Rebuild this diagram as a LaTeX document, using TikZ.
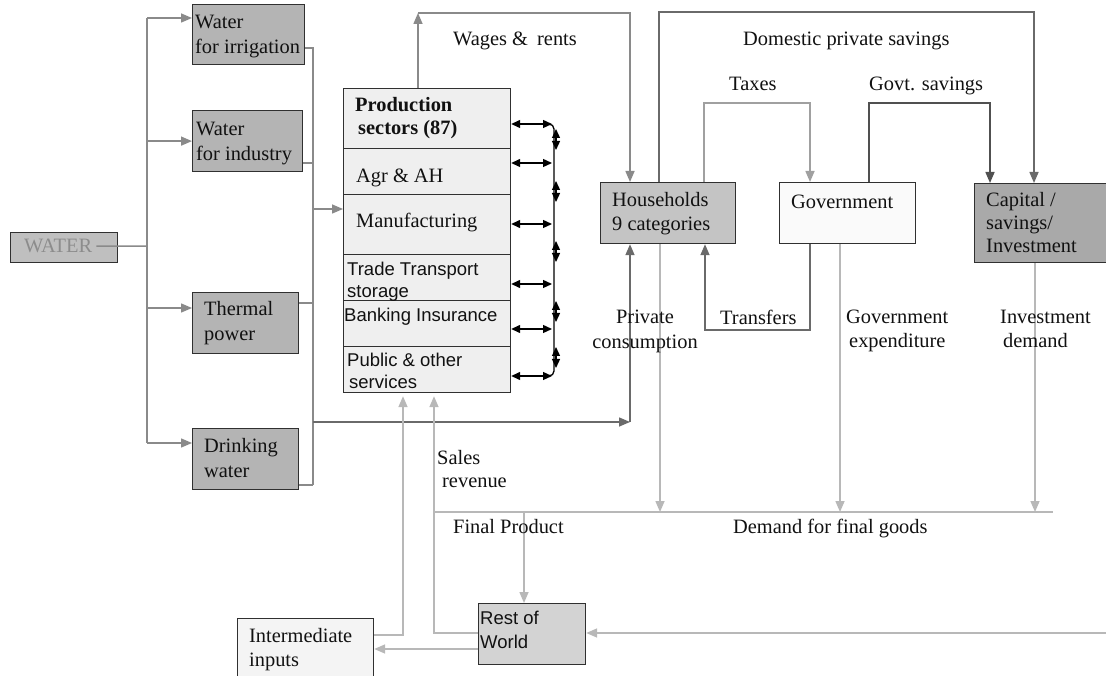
\documentclass[tikz,border=0pt]{standalone}
\usepackage{fontspec}
\setmainfont{Liberation Serif}
\newfontfamily\arialf{Liberation Sans}
\usetikzlibrary{arrows.meta}
\definecolor{wl}{HTML}{8A8A8A}
\definecolor{dk}{HTML}{6A6A6A}
\definecolor{dkk}{HTML}{505050}
\definecolor{lt}{HTML}{A0A0A0}
\definecolor{lg}{HTML}{B8B8B8}
\definecolor{boxc}{HTML}{303030}
\definecolor{txc}{HTML}{111111}
\begin{document}
\begin{tikzpicture}[x=1pt,y=-1pt,
  box/.style={draw=boxc, line width=1.2pt, inner sep=0pt, anchor=north west},
  tx/.style={inner sep=0pt, anchor=north west, align=left, text=txc, font=\fontsize{20.4}{25}\selectfont},
  sx/.style={inner sep=0pt, anchor=north west, align=left, text=txc, font=\arialf\fontsize{18.5}{22}\selectfont},
  ar/.style={-{Triangle[length=11pt,width=9pt]}},
  ln/.style={line width=1.5pt},
  bk/.style={black, line width=1.3pt, {Triangle[length=9pt,width=8pt]}-{Triangle[length=9pt,width=8pt]}}
]
\useasboundingbox (0,0) rectangle (1106,676);
\fill[white] (0,0) rectangle (1106,676);

% ---- boxes
\node[box, fill={rgb,255:red,191;green,191;blue,191}, minimum width=107pt, minimum height=30pt] (water) at (10,232) {};
\node[box, fill={rgb,255:red,180;green,180;blue,180}, minimum width=112pt, minimum height=60pt] (irr) at (192,4) {};
\node[box, fill={rgb,255:red,180;green,180;blue,180}, minimum width=110pt, minimum height=61pt] (ind) at (192,110) {};
\node[box, fill={rgb,255:red,180;green,180;blue,180}, minimum width=106pt, minimum height=61pt] (therm) at (192,292) {};
\node[box, fill={rgb,255:red,180;green,180;blue,180}, minimum width=106pt, minimum height=61pt] (drink) at (192,428) {};
\node[box, fill={rgb,255:red,239;green,239;blue,239}, minimum width=167pt, minimum height=60pt] (p1) at (343,88) {};
\node[box, fill={rgb,255:red,239;green,239;blue,239}, minimum width=167pt, minimum height=46pt] (p2) at (343,148) {};
\node[box, fill={rgb,255:red,239;green,239;blue,239}, minimum width=167pt, minimum height=60pt] (p3) at (343,194) {};
\node[box, fill={rgb,255:red,239;green,239;blue,239}, minimum width=167pt, minimum height=46pt] (p4) at (343,254) {};
\node[box, fill={rgb,255:red,239;green,239;blue,239}, minimum width=167pt, minimum height=46pt] (p5) at (343,300) {};
\node[box, fill={rgb,255:red,239;green,239;blue,239}, minimum width=167pt, minimum height=46pt] (p6) at (343,346) {};
\node[box, fill={rgb,255:red,196;green,196;blue,196}, minimum width=135pt, minimum height=61pt] (hh) at (600,182) {};
\node[box, fill={rgb,255:red,250;green,250;blue,250}, minimum width=136pt, minimum height=61pt] (gov) at (779,182) {};
\node[box, fill={rgb,255:red,169;green,169;blue,169}, minimum width=140pt, minimum height=79pt] (cap) at (974,183) {};
\node[box, fill={rgb,255:red,244;green,244;blue,244}, minimum width=136pt, minimum height=66pt] (inter) at (237,618) {};
\node[box, fill={rgb,255:red,211;green,211;blue,211}, minimum width=107pt, minimum height=61pt] (row) at (478,603) {};

% ---- box texts
\node[tx, text={rgb,255:red,140;green,140;blue,140}] (wt) at (24,239) {WATER};
\node[tx] (irrt) at (195,15) {Water\\for irrigation};
\node[tx] (indt) at (196,122) {Water\\for industry};
\node[tx] (thermt) at (204,301) {Thermal\\power};
\node[tx] (drinkt) at (204,438) {Drinking\\water};
\node[tx, font=\bfseries\fontsize{20.4}{23}\selectfont] (p1t) at (355,97) {Production\\\hspace{3pt}sectors (87)};
\node[tx] (p2t) at (356,169) {Agr \& AH};
\node[tx] (p3t) at (356,213) {Manufacturing};
\node[sx] (p4t) at (347,262) {Trade Transport\\storage};
\node[sx] (p5t) at (344,308) {Banking Insurance};
\node[sx] (p6t) at (347,353) {Public \& other\\\hspace{2pt}services};
\node[tx, font=\fontsize{20.4}{24}\selectfont] (hht) at (612,192) {Households\\9 categories};
\node[tx] (govt) at (791,195) {Government};
\node[tx, font=\fontsize{20.4}{23}\selectfont] (capt) at (986,192) {Capital /\\savings/\\Investment};
\node[tx, font=\fontsize{20.4}{24}\selectfont] (intert) at (249,628) {Intermediate\\inputs};
\node[sx, font=\arialf\fontsize{18.5}{24}\selectfont] (rowt) at (480,611) {Rest of\\World};

% ---- water distribution
\coordinate (j0) at (147,246);
\coordinate (tt) at (147,18);
\coordinate (tb) at (147,443);
\coordinate (a3) at (147,308);
\draw[wl, ln] ([xshift=4pt]wt.east) -- (j0);
\draw[wl, ln] (tt) -- (tb);
\draw[wl, ln, ar] (tt) -- (tt -| irr.west);
\draw[wl, ln, ar] (tt |- ind.west) -- (ind.west);
\draw[wl, ln, ar] (a3) -- (a3 -| therm.west);
\draw[wl, ln, ar] (tb) -- (tb -| drink.west);

\coordinate (c1) at (313,48);
\coordinate (c2) at (313,163);
\coordinate (c3) at (313,303);
\coordinate (c4) at (313,485);
\coordinate (c5) at (313,209);
\coordinate (c6) at (313,422);
\coordinate (c7) at (630,422);
\draw[wl, ln] (c1 -| irr.east) -- (c1) -- (c4);
\draw[wl, ln] (c2 -| ind.east) -- (c2);
\draw[wl, ln] (c3 -| therm.east) -- (c3);
\draw[wl, ln] (c4 -| drink.east) -- (c4);
\draw[wl, ln, ar] (c5) -- (c5 -| p3.west);
\draw[dk, ln, ar] (c6) -- (c7);
\draw[dk, ln, ar] (c7) -- (c7 |- hh.south);

% ---- wages & rents
\coordinate (w1) at (418,13);
\draw[wl, ln, ar] (p1.north -| w1) -- (w1);
\draw[wl, ln, ar] (w1) -| (c7 |- hh.north);
\node[tx] (wagest) at (453,32) {Wages \&\hspace{4pt} rents};

% ---- domestic private savings
\coordinate (d1) at (659,12);
\coordinate (d2) at (1034,12);
\draw[dk, ln, ar] (hh.north -| d1) -- (d1) -- (d2) -- (d2 |- cap.north);
\node[tx] (dpst) at (743,32) {Domestic private savings};

% ---- taxes / govt savings
\coordinate (t1) at (704,103);
\coordinate (t2) at (810,103);
\draw[lt, ln, ar] (hh.north -| t1) |- (t2) -- (t2 |- gov.north);
\node[tx] (taxt) at (729,77) {Taxes};
\coordinate (g1) at (869,103);
\coordinate (g2) at (990,103);
\draw[dkk, ln, ar] (gov.north -| g1) |- (g2) -- (g2 |- cap.north);
\node[tx] (gst) at (869,77) {Govt. savings};

% ---- transfers
\coordinate (r1) at (810,330);
\coordinate (r2) at (705,330);
\draw[dk, ln, ar] (gov.south -| r1) |- (r2) -- (r2 |- hh.south);
\node[tx] (trt) at (720,310) {Transfers};

% ---- final demand
\coordinate (dL) at (434,512);
\coordinate (dR) at (1053,512);
\coordinate (pc) at (660,512);
\coordinate (ge) at (840,512);
\coordinate (id) at (1035,512);
\coordinate (fp) at (524,512);
\draw[lg, ln] (dL) -- (dR);
\draw[lg, ln, ar] (pc |- hh.south) -- (pc);
\draw[lg, ln, ar] (ge |- gov.south) -- (ge);
\draw[lg, ln, ar] (id |- cap.south) -- (id);
\draw[lg, ln, ar] (fp) -- (fp |- row.north);
\node[tx, align=center, anchor=north] (pct) at (645,310) {Private\\consumption};
\node[tx, font=\fontsize{20.4}{24}\selectfont] (get) at (846,310) {Government\\\hspace{3pt}expenditure};
\node[tx, font=\fontsize{20.4}{24}\selectfont] (idt) at (1000,310) {Investment\\\hspace{3pt}demand};
\node[tx] (fpt) at (453,519) {Final Product};
\node[tx] (dfgt) at (733,519) {Demand for final goods};

% ---- rest of world / intermediate
\coordinate (s1) at (434,633);
\coordinate (i1) at (403,635);
\coordinate (q1) at (478,649);
\coordinate (q2) at (1106,633);
\draw[lg, ln, ar, shorten >=3pt] (row.west |- s1) -- (s1) -- (s1 |- p6.south);
\draw[lg, ln, ar, shorten >=3pt] (inter.east |- i1) -- (i1) -- (i1 |- p6.south);
\draw[lg, ln, ar] (q1) -- (q1 -| inter.east);
\draw[lg, ln, ar] (q2) -- (q2 -| row.east);
\node[tx, font=\fontsize{20.4}{23}\selectfont] (srt) at (437,450) {Sales\\\hspace{5pt}revenue};

% ---- inter-sector arrows
\coordinate (bx) at (552,0);
\foreach \n/\yy in {p1/124,p2/163,p3/224,p4/284,p5/329,p6/376}
  \draw[bk] (\n.east |- 0,\yy) -- (bx |- 0,\yy);
\draw[black, line width=1.3pt, rounded corners=5pt] (546,124) -| (554,250) |- (546,376);
\coordinate (vx) at (556,0);
\foreach \ya/\yb in {129/150,181/202,241/262,301/322,347/368}
  \draw[bk] (vx |- 0,\ya) -- (vx |- 0,\yb);
\end{tikzpicture}
\end{document}
